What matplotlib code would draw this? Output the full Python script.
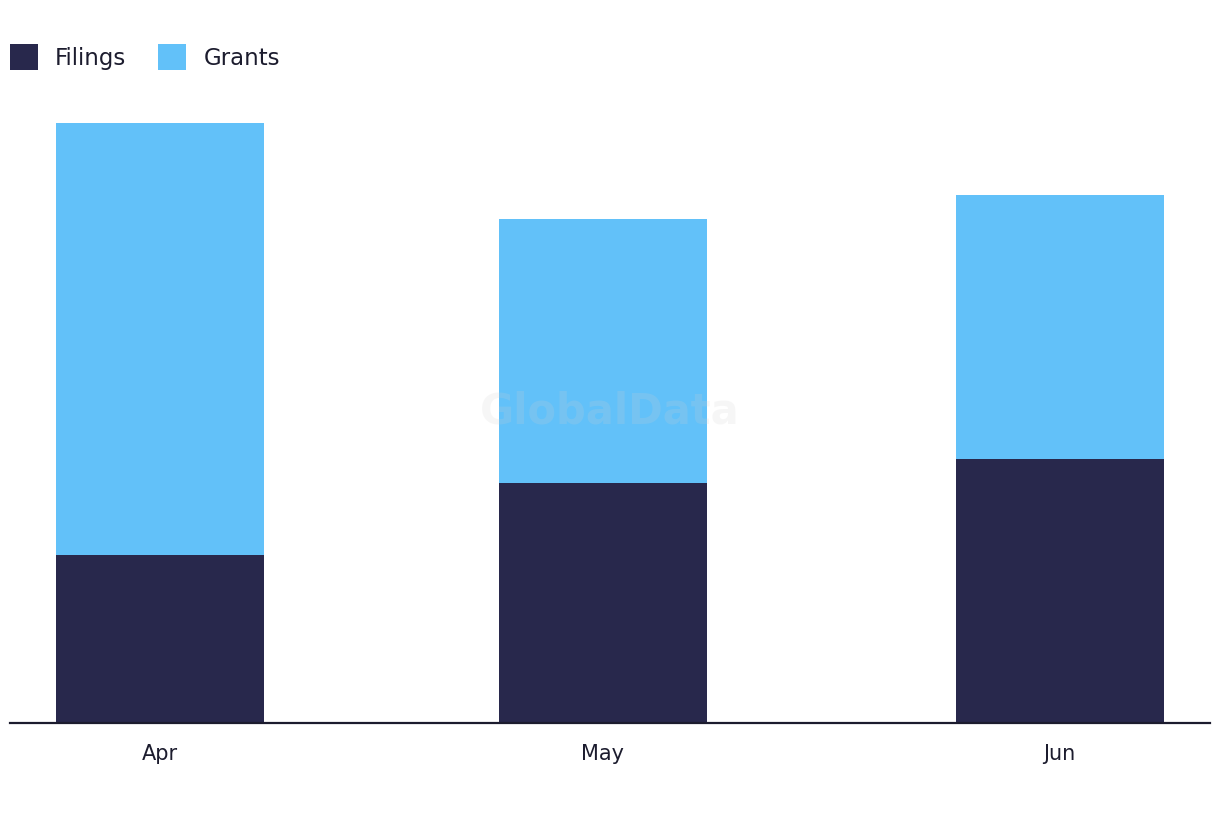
import matplotlib

matplotlib.use('Agg')
import matplotlib.pyplot as plt
import matplotlib.dates as mdates
from matplotlib.patches import Patch
import datetime as dt

# monthly counts
months = [dt.date(2023, 4, 1), dt.date(2023, 5, 1), dt.date(2023, 6, 1)]
month_labels = ["Apr", "May", "Jun"]
filings = [7, 10, 11]
grants = [18, 11, 11]

dark = "#28284c"
light = "#62c1f9"

fig = plt.figure(figsize=(12.2, 8.22), dpi=100)
ax = fig.add_axes([10 / 1220, 99 / 822, 1200 / 1220, 600 / 822])

x = mdates.date2num(months)
ax.bar(x, filings, width=14.1, color=dark, linewidth=0, zorder=2)
ax.bar(x, grants, width=14.1, bottom=filings, color=light, linewidth=0, zorder=2)

ax.set_xlim(x[0] - 10.2, x[-1] + 10.2)
ax.set_ylim(0, 25)
ax.set_xticks(x)
ax.set_xticklabels(month_labels, fontsize=15, color="#1c1c2e")
ax.tick_params(axis="x", length=0, pad=15)
ax.set_yticks([])
for s in ["top", "right", "left"]:
    ax.spines[s].set_visible(False)
ax.spines["bottom"].set_color("#1c1c2e")
ax.spines["bottom"].set_linewidth(1.6)
ax.spines["bottom"].set_zorder(3)

# watermark
ax.text(0.5, 0.52, "GlobalData", transform=ax.transAxes, ha="center", va="center",
        fontsize=30, fontweight="bold", color="#d1d1d1", alpha=0.18, zorder=4)

handles = [Patch(facecolor=dark, label="Filings"), Patch(facecolor=light, label="Grants")]
fig.legend(handles=handles, loc="upper left", bbox_to_anchor=(10 / 1220, 1 - 44 / 822),
           ncol=2, frameon=False, fontsize=16.5, handlelength=1.22, handleheight=1.4,
           handletextpad=0.75, columnspacing=1.4, borderaxespad=0, borderpad=0,
           labelcolor="#1c1c2e")

plt.savefig("out.png", dpi=100)
plt.close()
